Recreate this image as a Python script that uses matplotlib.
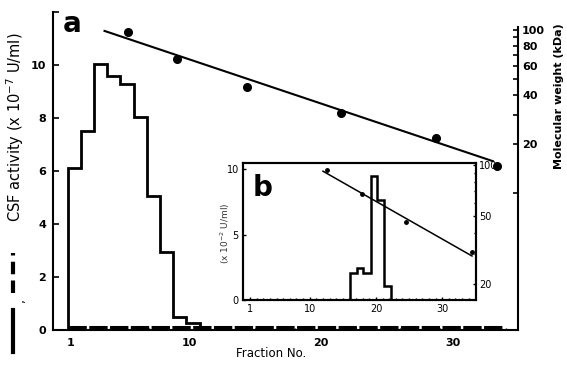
import numpy as np
import matplotlib.pyplot as plt
from matplotlib.lines import Line2D
from matplotlib.ticker import FixedLocator, NullFormatter, NullLocator

# main panel (a): CSF activity histogram per fraction
a_edges = [0.8, 1.8, 2.8, 3.8, 4.8, 5.8, 6.8, 7.8, 8.8, 9.8, 10.8]
a_csf = [6.1, 7.5, 10.05, 9.6, 9.3, 8.05, 5.05, 2.95, 0.5, 0.25]
# dashed trace (second run) lying at the baseline
a_dash_frac = [0.8, 33.7]
a_dash_csf = [0.12, 0.12]
# molecular weight markers
a_mw_frac = [5.4, 9.1, 14.4, 21.5, 28.7, 33.3]
a_mw_kda = [97, 66, 45, 31, 21.7, 14.7]
a_line_frac = [3.6, 33.0]
a_line_kda = [98.6, 15.7]

# inset (b)
b_edges = [16.1, 17.1, 18.1, 19.2, 20.2, 21.2, 22.3]
b_csf = [2.05, 2.45, 2.05, 9.45, 7.6, 1.05]
b_mw_frac = [12.6, 17.9, 24.6, 34.5]
b_mw_kda = [93.5, 68, 46, 30.8]
b_line_frac = [12.0, 34.5]
b_line_kda = [92, 29.2]

x_ticks = [1, 10, 20, 30]

plt.rcParams['font.family'] = 'DejaVu Sans'

fig = plt.figure(figsize=(5.67, 3.70), dpi=100)
ax = fig.add_axes([0.0935, 0.1081, 0.820, 0.8595])

ax.stairs(a_csf, a_edges, baseline=0, color='black', lw=2)
ax.plot(a_dash_frac, a_dash_csf, color='black', lw=2.2, dashes=(6, 0.8))
ax.set_xlim(-0.3, 34.9)
ax.set_ylim(0, 12)
ax.set_xticks(x_ticks)
ax.xaxis.set_minor_locator(FixedLocator(np.arange(1, 35)))
ax.tick_params(axis='x', which='major', direction='in', length=3, width=1,
               labelsize=8, pad=6)
ax.tick_params(axis='x', which='minor', direction='in', length=1.5, width=1)
ax.set_yticks([0, 2, 4, 6, 8, 10, 12])
ax.set_yticklabels(['0', '2', '4', '6', '8', '10', ''])
ax.tick_params(axis='y', direction='in', length=4, width=1.2, labelsize=8, pad=5)
for lab in ax.get_xticklabels() + ax.get_yticklabels():
    lab.set_fontweight('bold')
ax.spines['top'].set_visible(False)
ax.spines['right'].set_visible(False)
ax.spines['left'].set_linewidth(1.5)
ax.spines['bottom'].set_linewidth(1.5)
ax.set_xlabel('Fraction No.', fontsize=8.5)
ax.xaxis.set_label_coords(0.47, -0.055)

axr = ax.twinx()
axr.set_yscale('log')
axr.set_ylim(1.45, 128.8)
axr.plot(a_line_frac, a_line_kda, color='black', lw=1.5)
axr.plot(a_mw_frac, a_mw_kda, 'o', color='black', ms=5.5)
axr.yaxis.set_major_locator(FixedLocator([10, 20, 30, 40, 50, 60, 70, 80, 90, 100]))
axr.yaxis.set_minor_locator(NullLocator())
axr.set_yticklabels(['', '20', '', '40', '', '60', '', '80', '', '100'])
axr.tick_params(axis='y', direction='in', length=3.5, width=1.2, labelsize=8, pad=3)
for lab in axr.get_yticklabels():
    lab.set_fontweight('bold')
for s in ['top', 'left', 'bottom']:
    axr.spines[s].set_visible(False)
axr.spines['right'].set_linewidth(1.5)
axr.spines['right'].set_bounds(1.45, 104)
axr.set_ylabel('Molecular weight (kDa)', fontsize=8, fontweight='bold')
axr.yaxis.set_label_coords(1.077, 0.735)

fig.text(0.127, 0.935, 'a', fontsize=20, fontweight='bold', ha='center', va='center')

# left label with line-style key
fig.text(0.027, 0.657, 'CSF activity (x 10$^{-7}$ U/ml)', rotation=90,
         fontsize=10.5, ha='center', va='center')
fig.add_artist(Line2D([0.023, 0.023], [1 - 293 / 370, 1 - 253 / 370],
                      color='black', lw=3, dashes=(3, 1.5)))
fig.add_artist(Line2D([0.023, 0.023], [1 - 352 / 370, 1 - 310 / 370],
                      color='black', lw=3))
fig.text(0.036, 1 - 300 / 370, ',', fontsize=9, ha='center', va='center', rotation=90)

# inset b
axb = fig.add_axes([0.4286, 0.1892, 0.4109, 0.3703])
axb.set_facecolor('white')
axb.stairs(b_csf, b_edges, baseline=0, color='black', lw=1.8)
axb.set_xlim(-0.06, 35.1)
axb.set_ylim(0, 10.46)
axb.set_xticks(x_ticks)
axb.xaxis.set_minor_locator(FixedLocator(np.arange(1, 35)))
axb.set_yticks([0, 5, 10])
axb.tick_params(axis='both', which='major', direction='in', length=2.5, width=1,
                labelsize=7, pad=3)
axb.tick_params(axis='x', which='minor', direction='in', length=1.5, width=1)
for s in axb.spines.values():
    s.set_linewidth(1.5)
fig.text(0.397, 1 - 233 / 370, '(x 10$^{-2}$ U/ml)', rotation=90, fontsize=6.5,
         ha='center', va='center', color='#333333')
axb.text(0.085, 0.82, 'b', transform=axb.transAxes, fontsize=20, fontweight='bold',
         ha='center', va='center')

axbr = axb.twinx()
axbr.set_yscale('log')
axbr.set_ylim(16.1, 102.8)
axbr.plot(b_line_frac, b_line_kda, color='black', lw=1.1)
axbr.plot(b_mw_frac, b_mw_kda, 'o', color='black', ms=2.5)
axbr.yaxis.set_major_locator(FixedLocator([20, 50, 100]))
axbr.yaxis.set_minor_locator(FixedLocator([30, 40, 60, 70, 80, 90]))
axbr.yaxis.set_minor_formatter(NullFormatter())
axbr.set_yticklabels(['20', '50', '100'])
axbr.tick_params(axis='y', which='major', direction='in', length=2.5, width=1,
                 labelsize=7, pad=2)
axbr.tick_params(axis='y', which='minor', direction='in', length=1.5, width=1)
for s in axbr.spines.values():
    s.set_linewidth(1.5)

fig.savefig('out.png', dpi=100)
